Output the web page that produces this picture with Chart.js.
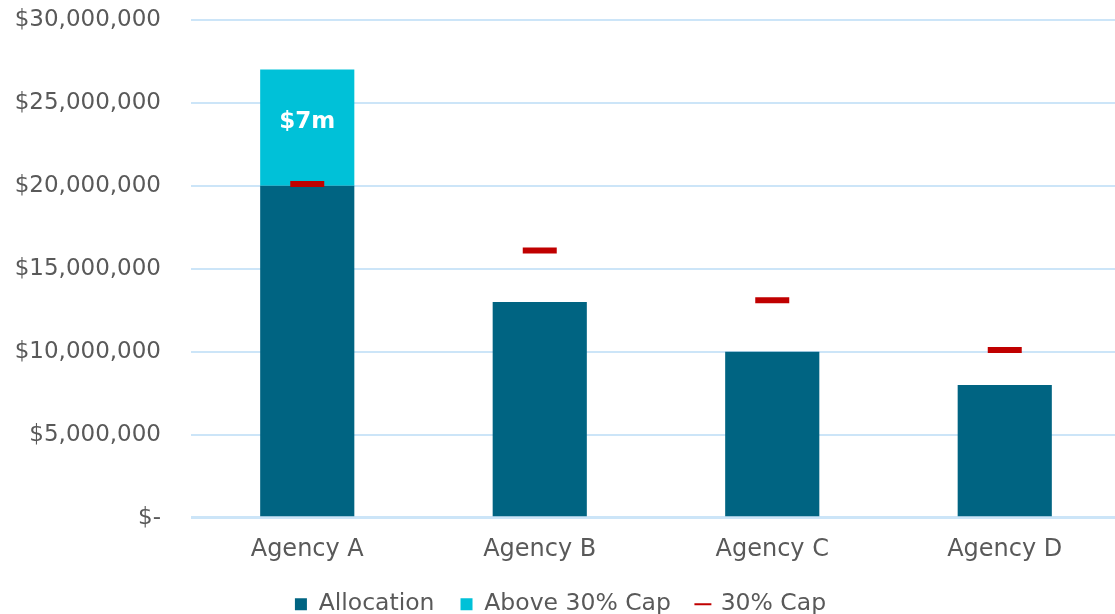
<!DOCTYPE html>
<html>
<head>
<meta charset="utf-8">
<script src="https://cdn.jsdelivr.net/npm/chart.js@4"></script>
<style>
  html, body { margin: 0; padding: 0; background: #fff; overflow: hidden; }
  #grafico { display: block; margin-top: -24px; }
</style>
</head>
<body>
<canvas id="grafico" width="1121" height="650"></canvas>
<script>
const categories = ["Agency A", "Agency B", "Agency C", "Agency D"];
const allocation = [20000000, 13000000, 10000000, 8000000];
const aboveCap = [7000000, 0, 0, 0];
const capValues = [20100000, 16100000, 13100000, 10100000];
const aboveLabels = ["$7m", "", "", ""];
const yMax = 30000000;
const yStep = 5000000;

const fontFamily = "'DejaVu Sans', 'Noto Sans', sans-serif";
const grey = "#595959";

// writes "$7m" inside the cyan segment
const segmentLabels = {
  id: "segmentLabels",
  afterDatasetsDraw(chart) {
    const meta = chart.getDatasetMeta(1);
    const ctx = chart.ctx;
    ctx.save();
    ctx.fillStyle = "#ffffff";
    ctx.font = "bold 23px " + fontFamily;
    ctx.textAlign = "center";
    ctx.textBaseline = "middle";
    meta.data.forEach((bar, i) => {
      if (!aboveLabels[i]) return;
      const mid = (bar.y + bar.base) / 2;
      ctx.fillText(aboveLabels[i], bar.x, mid - 6);
    });
    ctx.restore();
  },
};

const grafico = new Chart(document.getElementById("grafico"), {
  type: "bar",
  data: {
    labels: categories,
    datasets: [
      {
        label: "Allocation",
        data: allocation,
        backgroundColor: "#006482",
        stack: "alloc",
        order: 2,
        pointStyle: "rect",
      },
      {
        label: "Above 30% Cap",
        data: aboveCap,
        backgroundColor: "#00C1D8",
        stack: "alloc",
        order: 2,
        pointStyle: "rect",
      },
      {
        type: "line",
        label: "30% Cap",
        data: capValues,
        stack: "cap",
        showLine: false,
        borderColor: "#C00000",
        backgroundColor: "#C00000",
        pointStyle: "line",
        pointRadius: 17,
        pointHoverRadius: 17,
        pointBorderWidth: 6,
        order: 1,
      },
    ],
  },
  options: {
    responsive: false,
    animation: false,
    datasets: {
      bar: { barPercentage: 0.405, categoryPercentage: 1 },
    },
    layout: { padding: 0, autoPadding: false },
    scales: {
      x: {
        stacked: true,
        grid: { display: false },
        border: { display: false },
        ticks: { color: grey, font: { family: fontFamily, size: 24 }, padding: 10 },
        afterFit: (s) => {
          s.height -= 8;
        },
      },
      y: {
        stacked: true,
        min: 0,
        max: yMax,
        ticks: {
          stepSize: yStep,
          color: grey,
          padding: 30,
          font: { family: fontFamily, size: 23 },
          callback: (v) => (v === 0 ? "$-" : "$" + v.toLocaleString("en-US")),
        },
        grid: {
          color: "#CCE5F8",
          lineWidth: (c) => (c.tick && c.tick.value === 0 ? 3 : 2),
          drawTicks: false,
        },
        border: { display: false },
        afterFit: (s) => {
          s.width = 191;
        },
      },
    },
    plugins: {
      tooltip: { enabled: false },
      legend: {
        position: "bottom",
        labels: {
          color: grey,
          font: { family: fontFamily, size: 23.5 },
          usePointStyle: true,
          boxWidth: 12,
          boxHeight: 12,
          padding: 26,
          sort: (a, b) => a.datasetIndex - b.datasetIndex,
          generateLabels: (chart) => {
            const labels = Chart.defaults.plugins.legend.labels.generateLabels(chart);
            labels.forEach((l) => {
              if (l.datasetIndex === 2) {
                l.lineWidth = 2;
                l.strokeStyle = "#C00000";
              } else {
                l.lineWidth = 0;
              }
            });
            return labels;
          },
        },
      },
    },
  },
  plugins: [segmentLabels],
});
</script>
</body>
</html>
